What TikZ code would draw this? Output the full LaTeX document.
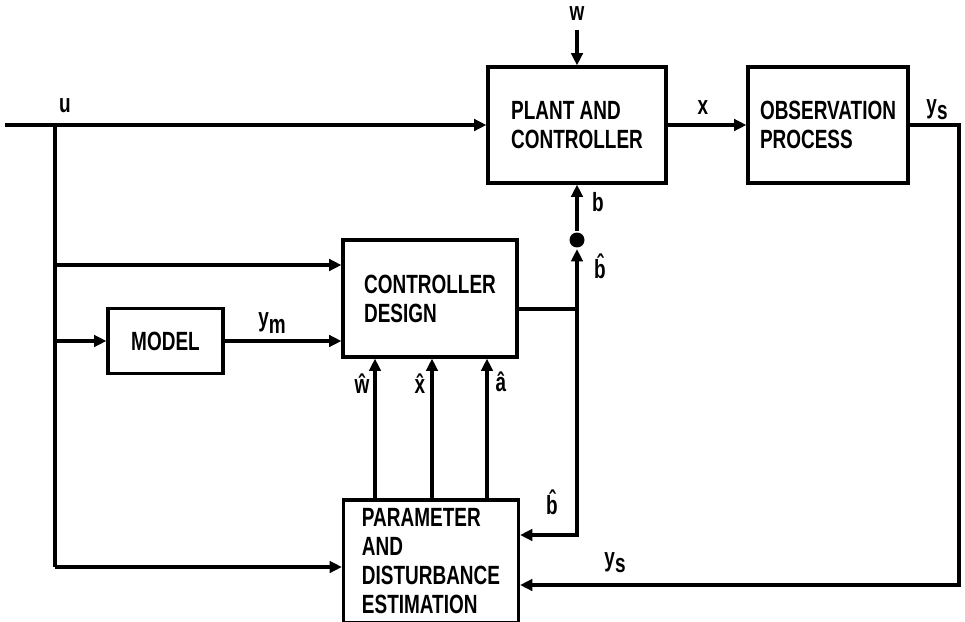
\documentclass[tikz,border=0pt]{standalone}
\usepackage{fontspec}
\setmainfont{Liberation Sans}[FakeStretch=0.72]
\usetikzlibrary{arrows.meta,positioning}
\newcommand{\ysout}{y\raisebox{-.45ex}{s}}
\newcommand{\ymod}{y\raisebox{-.45ex}{m}}

\begin{document}
\begin{tikzpicture}[x=0.02cm,y=-0.02cm,line width=1.8pt,
  >={Triangle[length=7pt,width=6.5pt]},
  block/.style={draw, line width=1.8pt, align=left, inner sep=0pt,
    font=\fontsize{15}{16.5}\selectfont\bfseries},
  lbl/.style={font=\fontsize{15}{15}\selectfont\bfseries, inner sep=1pt}]
  \useasboundingbox (0,0) rectangle (965,622);

  % blocks
  \node[block, minimum width=3.56cm, minimum height=2.32cm] (plant) at (577,125) {PLANT AND\\CONTROLLER};
  \node[block, minimum width=3.2cm, minimum height=2.32cm] (obs) at (828,125) {OBSERVATION\\PROCESS};
  \node[block, minimum width=3.48cm, minimum height=2.34cm] (ctrl) at (430,298.5) {CONTROLLER\\DESIGN};
  \node[block, minimum width=2.3cm, minimum height=1.3cm] (model) at (165.5,341) {MODEL};
  \node[block, minimum width=3.5cm, minimum height=2.46cm] (param) at (431,561.5)
    {PARAMETER\\AND\\DISTURBANCE\\ESTIMATION};
  \node[circle, fill, inner sep=0pt, minimum size=0.3cm] (dot) at (577,240) {};

  % input u and its branches
  \coordinate (uin) at (5,125);
  \coordinate (ujn) at (55,125);
  \coordinate (uc) at (55,265);
  \coordinate (ubot) at (55,567);
  \draw[->] (uin) -- (plant.west);
  \draw (ujn) -- (ubot);
  \draw[->] (uc) -- (uc -| ctrl.west);
  \draw[->] (model.west -| ujn) -- (model.west);
  \draw[->] (ubot) -- (ubot -| param.west);
  \draw[->] (model.east) -- (model.east -| ctrl.west);

  % disturbance and state
  \coordinate (win) at (577,30);
  \draw[->] (win) -- (plant.north);
  \draw[->] (plant.east) -- (obs.west);

  % measurement feedback
  \coordinate (ysc) at (959,585);
  \draw[->] (obs.east) -| (ysc) -- (ysc -| param.east);

  % estimates
  \draw[->] (param.north -| 375,0) -- (ctrl.south -| 375,0);
  \draw[->] (param.north -| 432,0) -- (ctrl.south -| 432,0);
  \draw[->] (param.north -| 487,0) -- (ctrl.south -| 487,0);

  % control parameter loop
  \coordinate (bj) at (577,309);
  \coordinate (bl) at (577,535);
  \draw (ctrl.east |- bj) -- (bj);
  \draw[->] (bj) -- (dot.south);
  \draw[->] (dot.north) -- (plant.south);
  \draw[->] (bj) -- (bl) -- (bl -| param.east);

  % labels
  \node[lbl] (lu) at (65,106) {u};
  \node[lbl] (lw) at (577,14) {w};
  \node[lbl] (lx) at (703,108) {x};
  \node[lbl] (lys) at (937,110) {\ysout};
  \node[lbl] (lym) at (272,323) {\ymod};
  \node[lbl] (lb) at (598,202) {b};
  \node[lbl] (lbh) at (600,266) {\^{b}};
  \node[lbl] (lwh) at (362,384) {\^{w}};
  \node[lbl] (lxh) at (420,384) {\^{x}};
  \node[lbl] (lah) at (501,382) {\^{a}};
  \node[lbl] (lbh2) at (552,502) {\^{b}};
  \node[lbl] (lys2) at (615,563) {\ysout};
\end{tikzpicture}
\end{document}
